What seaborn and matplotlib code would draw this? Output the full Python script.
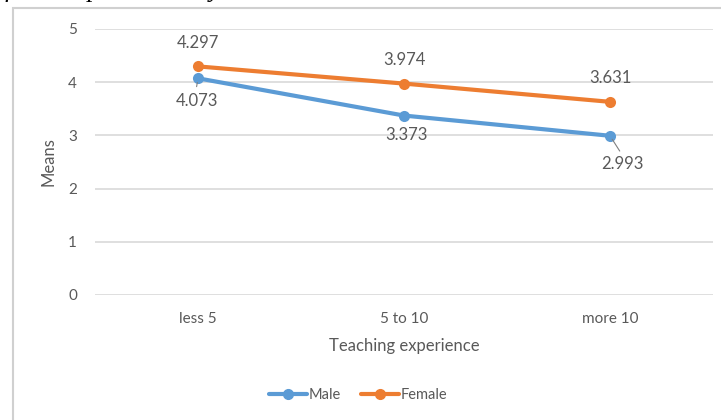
import matplotlib
matplotlib.use("Agg")
import matplotlib.pyplot as plt
from matplotlib.lines import Line2D
from matplotlib.patches import Rectangle
import seaborn as sns
import pandas as pd

# Mean scores by teaching experience and gender
experience = ["less 5", "5 to 10", "more 10"]
male_means = [4.073, 3.373, 2.993]
female_means = [4.297, 3.974, 3.631]
y_ticks = [0, 1, 2, 3, 4, 5]

df = pd.DataFrame({
    "Teaching experience": experience * 2,
    "Means": male_means + female_means,
    "Gender": ["Male"] * 3 + ["Female"] * 3,
})

blue = "#5B9BD5"
orange = "#ED7D31"
text_c = "#595959"
grid_c = "#D9D9D9"

sns.set_theme(style="white")
plt.rcParams["font.family"] = ["Lato", "DejaVu Sans"]

fig = plt.figure(figsize=(7.21, 4.20), dpi=100)
W, H = 721, 420
ax = fig.add_axes([95 / W, 1 - 295 / H, (713 - 95) / W, (295 - 29) / H])

sns.lineplot(data=df, x="Teaching experience", y="Means", hue="Gender",
             palette={"Male": blue, "Female": orange}, marker="o",
             markersize=8, markeredgewidth=0, linewidth=3, sort=False,
             legend=False, ax=ax)

ax.set_xlim(-0.5, 2.5)
ax.set_ylim(0, 5)
ax.set_yticks(y_ticks)
ax.set_yticklabels([str(t) for t in y_ticks])
ax.yaxis.grid(True, color=grid_c, linewidth=1.2)
ax.set_axisbelow(True)
for s in ax.spines.values():
    s.set_visible(False)
ax.tick_params(axis="both", length=0, labelsize=11, colors=text_c)
ax.tick_params(axis="y", pad=13)
ax.tick_params(axis="x", pad=12)
ax.set_xlabel("Teaching experience", fontsize=12, color=text_c, labelpad=9)
ax.set_ylabel("Means", fontsize=12, color=text_c, labelpad=8)

# value labels: female above, male below
for i, v in enumerate(female_means):
    ax.annotate(f"{v:.3f}", (i, v), xytext=(0, 17), textcoords="offset points",
                ha="center", va="center", fontsize=12, color=text_c)
male_offsets = [(-1, -16), (2, -14), (9, -20)]
for i, (v, off) in enumerate(zip(male_means, male_offsets)):
    ax.annotate(f"{v:.3f}", (i, v), xytext=off, textcoords="offset points",
                ha="center", va="center", fontsize=12, color=text_c)
# leader lines for displaced labels
ax.annotate("", (2, male_means[2]), xytext=(7, -11), textcoords="offset points",
            arrowprops=dict(arrowstyle="-", color="#7F7F7F", lw=0.8,
                            shrinkA=0, shrinkB=3))
ax.annotate("", (0, male_means[0]), xytext=(-1, -6), textcoords="offset points",
            arrowprops=dict(arrowstyle="-", color="#7F7F7F", lw=0.8,
                            shrinkA=0, shrinkB=3))

handles = [
    Line2D([], [], color=blue, marker="o", markersize=7, linewidth=3, label="Male"),
    Line2D([], [], color=orange, marker="o", markersize=7, linewidth=3, label="Female"),
]
fig.legend(handles=handles, loc="center", bbox_to_anchor=(358 / W, 1 - 395 / H),
           ncol=2, frameon=False, fontsize=10.5, handlelength=2.6,
           handletextpad=0.1, columnspacing=1.4, labelcolor=text_c)

# chart frame
fig.patches.append(Rectangle((13 / W, -0.1), 1.0, 1 - 8 / H + 0.1,
                             transform=fig.transFigure, fill=False,
                             edgecolor="#D0D0D0", linewidth=1.5))

# caption running above the chart
fig.text(-8 / W, 1 + 3 / H, "of CT as perceived by teachers", ha="left",
         va="baseline", fontsize=19, style="italic",
         family=["Liberation Serif", "DejaVu Serif"], color="black")

fig.savefig("out.png", dpi=100)
